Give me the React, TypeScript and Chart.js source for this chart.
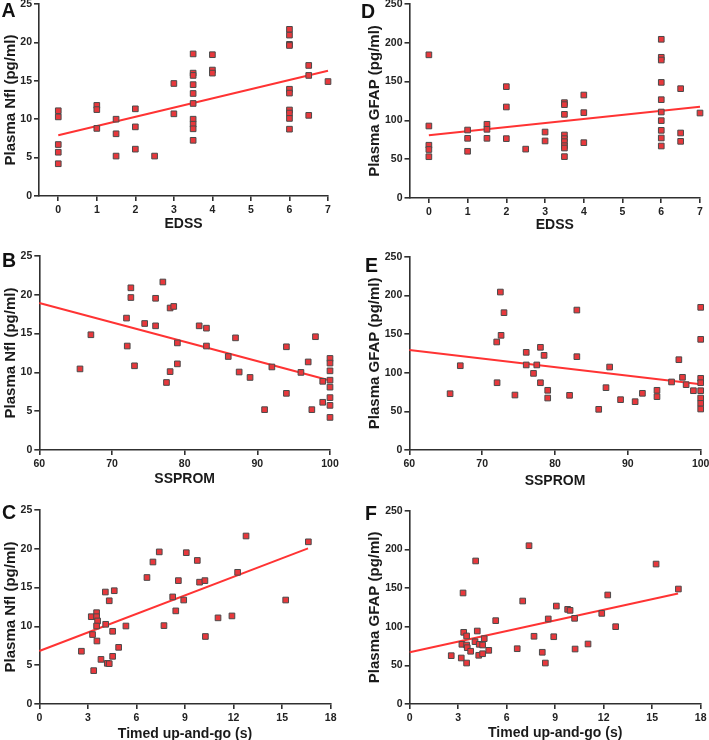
import React, { useEffect, useRef } from "react";
import { Chart, registerables } from "chart.js";

Chart.register(...registerables);

const FONT = "'Liberation Sans', Arial, Helvetica, sans-serif";

// ---------- Data ----------
// Panel A: EDSS vs plasma NfL
const edssA = [0, 0, 0, 0, 0, 1, 1, 1, 1.5, 1.5, 1.5, 2, 2, 2, 2.5, 3, 3,
  3.5, 3.5, 3.5, 3.5, 3.5, 3.5, 3.5, 3.5, 3.5, 3.5, 4, 4, 4,
  6, 6, 6, 6, 6, 6, 6, 6, 6, 6, 6.5, 6.5, 6.5, 7];
const nflA = [11.1, 10.3, 6.7, 5.7, 4.2, 11.8, 11.25, 8.8, 10.0, 8.1, 5.2, 11.35, 9.0, 6.1, 5.2, 14.65, 10.7,
  18.5, 16.0, 15.7, 14.5, 13.35, 12.05, 10.0, 9.35, 8.75, 7.25, 18.4, 16.4, 16.0,
  21.7, 20.95, 19.75, 19.6, 13.9, 13.4, 11.2, 10.8, 10.1, 8.7, 17.0, 15.7, 10.5, 14.9];
const fitAX = [0, 7];
const fitAY = [7.9, 16.3];

// Panel B: SSPROM vs plasma NfL
const ssB = [65.6, 67.1, 72.0, 72.1, 72.6, 72.6, 73.1, 74.5, 76.0, 76.0, 77.0, 77.5, 78.0, 78.0, 78.5, 79.0, 79.0,
  82.0, 83.0, 83.0, 86.0, 87.0, 87.5, 89.0, 91.0, 92.0, 94.0, 94.0, 96.0, 97.0, 97.5, 98.0, 99.0, 99.0,
  100, 100, 100, 100, 100, 100, 100, 100];
const nflB = [10.45, 14.85, 17.0, 13.4, 20.9, 19.65, 10.85, 16.3, 19.55, 16.0, 21.65, 8.7, 18.3, 10.1, 18.5, 13.8, 11.1,
  16.0, 15.7, 13.4, 12.05, 14.45, 10.05, 9.35, 5.2, 10.7, 13.3, 7.3, 10.0, 11.35, 5.2, 14.6, 8.85, 6.15,
  11.8, 11.2, 10.2, 9.0, 8.1, 6.75, 5.75, 4.2];
const fitBX = [60, 100];
const fitBY = [18.95, 8.95];

// Panel C: Timed up-and-go vs plasma NfL
const tugC = [2.6, 3.21, 3.29, 3.36, 3.54, 3.54, 3.6, 3.54, 3.56, 3.81, 4.1, 4.08, 4.32, 4.2, 4.32, 4.53, 4.53, 4.63, 4.9, 5.35,
  6.65, 7.02, 7.41, 7.7, 8.24, 8.43, 8.59, 8.92, 9.08, 9.76, 9.9, 10.23, 10.26, 11.04, 11.9, 12.25, 12.77, 15.22, 16.62];
const nflC = [6.8, 11.25, 8.95, 4.3, 11.77, 11.25, 10.7, 10.05, 8.12, 5.75, 10.27, 14.43, 13.3, 5.24, 5.2, 9.37, 6.14, 14.6, 7.3, 10.05,
  16.3, 18.3, 19.6, 10.1, 13.8, 12.0, 15.9, 13.4, 19.5, 18.5, 15.7, 15.9, 8.7, 11.1, 11.35, 16.97, 21.65, 13.4, 20.9];
const fitCX = [0, 16.6];
const fitCY = [6.83, 20.06];

// Panel D: EDSS vs plasma GFAP
const edssD = [0, 0, 0, 0, 0, 1, 1, 1, 1.5, 1.5, 1.5, 2, 2, 2, 2.5, 3, 3,
  3.5, 3.5, 3.5, 3.5, 3.5, 3.5, 3.5, 3.5, 3.5, 4, 4, 4,
  6, 6, 6, 6, 6, 6, 6, 6, 6, 6, 6.5, 6.5, 6.5, 7];
const gfapD = [184.5, 92.8, 68, 62.5, 53.2, 87.6, 76.9, 60.2, 95, 88.5, 76.9, 143.5, 117.3, 76.5, 63, 85, 73.5,
  122.9, 120.3, 107.8, 81.2, 76.5, 72.6, 67.4, 64.4, 53.3, 132.7, 110, 71.3,
  204.5, 181.3, 177.8, 149, 126.7, 110.8, 99.7, 87.2, 77.3, 67, 140.9, 83.8, 73, 109.5];
const fitDX = [0, 7];
const fitDY = [80.8, 117.7];

// Panel E: SSPROM vs plasma GFAP
const ssE = [65.6, 67.0, 72.0, 72.05, 72.5, 72.6, 73.0, 74.5, 76.05, 76.05, 77.05, 77.5, 78.0, 78.0, 78.5, 79.0, 79.0,
  82.0, 83.0, 83.0, 86.0, 87.0, 87.5, 89.0, 91.0, 92.0, 94.0, 94.0, 96.0, 97.0, 97.5, 98.0, 99.0,
  100, 100, 100, 100, 100, 100, 100, 100];
const gfapE = [72.8, 109, 139.7, 87, 204.3, 148.3, 177.6, 71.1, 126.3, 110, 99.1, 110, 132.8, 87, 122.4, 77.2, 67.2,
  70.7, 181, 120.7, 52.6, 80.6, 107.3, 65.1, 62.5, 73.3, 77.2, 69, 88, 116.8, 94, 84.5, 76.7,
  184.5, 143.1, 92.7, 87, 76.7, 67.2, 60.3, 53];
const fitEX = [60, 100];
const fitEY = [129.3, 84.9];

// Panel F: Timed up-and-go vs plasma GFAP
const tugF = [2.57, 3.19, 3.23, 3.3, 3.34, 3.52, 3.52, 3.56, 3.52, 3.77, 4.08, 4.04, 4.18, 4.3, 4.27, 4.51, 4.51, 4.61, 4.89, 5.32,
  6.65, 6.99, 7.38, 7.69, 8.2, 8.39, 8.57, 8.91, 9.07, 9.77, 9.92, 10.2, 10.23, 11.03, 11.88, 12.25, 12.74, 15.24, 16.62];
const gfapF = [62.5, 59.5, 77.2, 143.6, 92.7, 88, 76.3, 72.8, 53, 68.2, 185, 80.6, 94.4, 77.2, 63, 76.3, 65, 84.5, 69.4, 107.8,
  71.5, 133.2, 204.7, 87.6, 66.9, 53, 110, 87, 126.7, 122.4, 121.1, 110.8, 71.1, 77.6, 117.2, 141, 100, 181, 148.7];
const fitFX = [0, 16.6];
const fitFY = [66.8, 143];

// Tick labels
const edssTicks = [0, 1, 2, 3, 4, 5, 6, 7];
const ssTicks = [60, 70, 80, 90, 100];
const tugTicks = [0, 3, 6, 9, 12, 15, 18];
const nflTicks = [0, 5, 10, 15, 20, 25];
const gfapTicks = [0, 50, 100, 150, 200, 250];

const nflTitle = "Plasma Nfl (pg/ml)";
const gfapTitle = "Plasma GFAP (pg/ml)";

// ---------- Layout ----------
type Spec = {
  letter: string;
  letterX: number; letterY: number;
  cx: number; cy: number; cw: number; ch: number;
  L: number; R: number; T: number; B: number;
  xTitleY: number; yTitleX: number;
  xs: number[]; ys: number[]; fx: number[]; fy: number[];
  xMin: number; xMax: number; xTicks: number[]; xTitle: string;
  yMax: number; yTicks: number[]; yTitle: string;
};

const panels: Spec[] = [
  { letter: "A", letterX: 1.5, letterY: 1, cx: 0, cy: 0, cw: 354, ch: 240, L: 39, R: 328, T: 4, B: 196, xTitleY: 224, yTitleX: 11,
    xs: edssA, ys: nflA, fx: fitAX, fy: fitAY, xMin: -0.5, xMax: 7, xTicks: edssTicks, xTitle: "EDSS", yMax: 25, yTicks: nflTicks, yTitle: nflTitle },
  { letter: "B", letterX: 2, letterY: 250.5, cx: 0, cy: 240, cw: 354, ch: 248, L: 39.3, R: 330, T: 256, B: 450, xTitleY: 479, yTitleX: 11,
    xs: ssB, ys: nflB, fx: fitBX, fy: fitBY, xMin: 60, xMax: 100, xTicks: ssTicks, xTitle: "SSPROM", yMax: 25, yTicks: nflTicks, yTitle: nflTitle },
  { letter: "C", letterX: 2, letterY: 502.5, cx: 0, cy: 488, cw: 354, ch: 252, L: 39.3, R: 330.7, T: 510, B: 704, xTitleY: 734, yTitleX: 11,
    xs: tugC, ys: nflC, fx: fitCX, fy: fitCY, xMin: 0, xMax: 18, xTicks: tugTicks, xTitle: "Timed up-and-go (s)", yMax: 25, yTicks: nflTicks, yTitle: nflTitle },
  { letter: "D", letterX: 361, letterY: 1.5, cx: 354, cy: 0, cw: 355, ch: 240, L: 409.5, R: 700, T: 4, B: 198, xTitleY: 225, yTitleX: 375,
    xs: edssD, ys: gfapD, fx: fitDX, fy: fitDY, xMin: -0.5, xMax: 7, xTicks: edssTicks, xTitle: "EDSS", yMax: 250, yTicks: gfapTicks, yTitle: gfapTitle },
  { letter: "E", letterX: 365, letterY: 255.5, cx: 354, cy: 240, cw: 355, ch: 248, L: 409.3, R: 700.7, T: 256.7, B: 450, xTitleY: 481, yTitleX: 375,
    xs: ssE, ys: gfapE, fx: fitEX, fy: fitEY, xMin: 60, xMax: 100, xTicks: ssTicks, xTitle: "SSPROM", yMax: 250, yTicks: gfapTicks, yTitle: gfapTitle },
  { letter: "F", letterX: 365, letterY: 503.5, cx: 354, cy: 488, cw: 355, ch: 252, L: 409.7, R: 700.7, T: 510.7, B: 704, xTitleY: 733.5, yTitleX: 375,
    xs: tugF, ys: gfapF, fx: fitFX, fy: fitFY, xMin: 0, xMax: 18, xTicks: tugTicks, xTitle: "Timed up-and-go (s)", yMax: 250, yTicks: gfapTicks, yTitle: gfapTitle },
];

const AXIS = "#303030";
const TICK_FONT = { family: FONT, size: 10.5, weight: "bold" as const, lineHeight: 1.2 };
const XT_SIZE = 14;
const YT_SIZE = 15;

function Panel({ s }: { s: Spec }) {
  const ref = useRef<HTMLCanvasElement>(null);
  useEffect(() => {
    const points = s.xs.map((x, i) => ({ x, y: s.ys[i] }));
    const fit = s.fx.map((x, i) => ({ x, y: s.fy[i] }));
    const yW = s.L - s.cx;
    const xH = s.cy + s.ch - s.B;
    const chart = new Chart(ref.current!, {
      type: "scatter",
      data: {
        datasets: [
          {
            data: points,
            pointStyle: "rect",
            pointRadius: 4,
            pointHoverRadius: 4,
            backgroundColor: "#e8383c",
            borderColor: "#4a4a4a",
            borderWidth: 1,
            clip: false,
            order: 0,
          } as any,
          {
            type: "line",
            data: fit,
            borderColor: "#ff3333",
            borderWidth: 2,
            pointRadius: 0,
            fill: false,
            showLine: true,
            clip: false,
            order: 1,
          } as any,
        ],
      },
      options: {
        animation: false,
        responsive: false,
        devicePixelRatio: 1,
        events: [],
        layout: {
          autoPadding: false,
          padding: { left: 0, top: s.T - s.cy, right: s.cx + s.cw - s.R, bottom: 0 },
        } as any,
        plugins: { legend: { display: false }, tooltip: { enabled: false }, title: { display: false } },
        scales: {
          x: {
            type: "linear",
            min: s.xMin,
            max: s.xMax,
            afterBuildTicks: (sc: any) => { sc.ticks = s.xTicks.map((v) => ({ value: v })); },
            afterFit: (sc: any) => { sc.height = xH; sc.paddingLeft = 0; sc.paddingRight = 0; },
            grid: { display: true, drawOnChartArea: false, drawTicks: true, tickLength: 5, color: AXIS, lineWidth: 1.6 },
            border: { display: true, color: AXIS, width: 1.6 },
            ticks: { font: TICK_FONT, color: "#222", padding: 3, maxRotation: 0, autoSkip: false },
            title: {
              display: true, text: s.xTitle, color: "#1a1a1a",
              font: { family: FONT, size: XT_SIZE, weight: "bold", lineHeight: 1.2 },
              padding: { top: 0, bottom: s.cy + s.ch - s.xTitleY - (XT_SIZE * 1.2) / 2 },
            },
          },
          y: {
            type: "linear",
            min: 0,
            max: s.yMax,
            afterBuildTicks: (sc: any) => { sc.ticks = s.yTicks.map((v) => ({ value: v })); },
            afterFit: (sc: any) => { sc.width = yW; sc.paddingTop = 0; sc.paddingBottom = 0; },
            grid: { display: true, drawOnChartArea: false, drawTicks: true, tickLength: 5, color: AXIS, lineWidth: 1.6 },
            border: { display: true, color: AXIS, width: 1.6 },
            ticks: { font: TICK_FONT, color: "#222", padding: 2, autoSkip: false },
            title: {
              display: true, text: s.yTitle, color: "#1a1a1a",
              font: { family: FONT, size: YT_SIZE, weight: "bold", lineHeight: 1.2 },
              padding: { top: s.yTitleX - s.cx - (YT_SIZE * 1.2) / 2, bottom: 0 },
            },
          },
        },
      } as any,
    });
    return () => chart.destroy();
  }, [s]);
  return (
    <canvas
      ref={ref}
      width={s.cw}
      height={s.ch}
      style={{ position: "absolute", left: s.cx, top: s.cy, width: s.cw, height: s.ch }}
    />
  );
}

export default function App() {
  return (
    <div style={{ position: "absolute", left: 0, top: 0, width: 709, height: 740, overflow: "hidden", background: "#fff" }}>
      {panels.map((p) => (
        <Panel key={p.letter} s={p} />
      ))}
      {panels.map((p) => (
        <div
          key={"l" + p.letter}
          style={{
            position: "absolute", left: p.letterX, top: p.letterY,
            fontFamily: FONT, fontWeight: "bold", fontSize: 19.5, lineHeight: "19px", color: "#111",
          }}
        >
          {p.letter}
        </div>
      ))}
    </div>
  );
}
